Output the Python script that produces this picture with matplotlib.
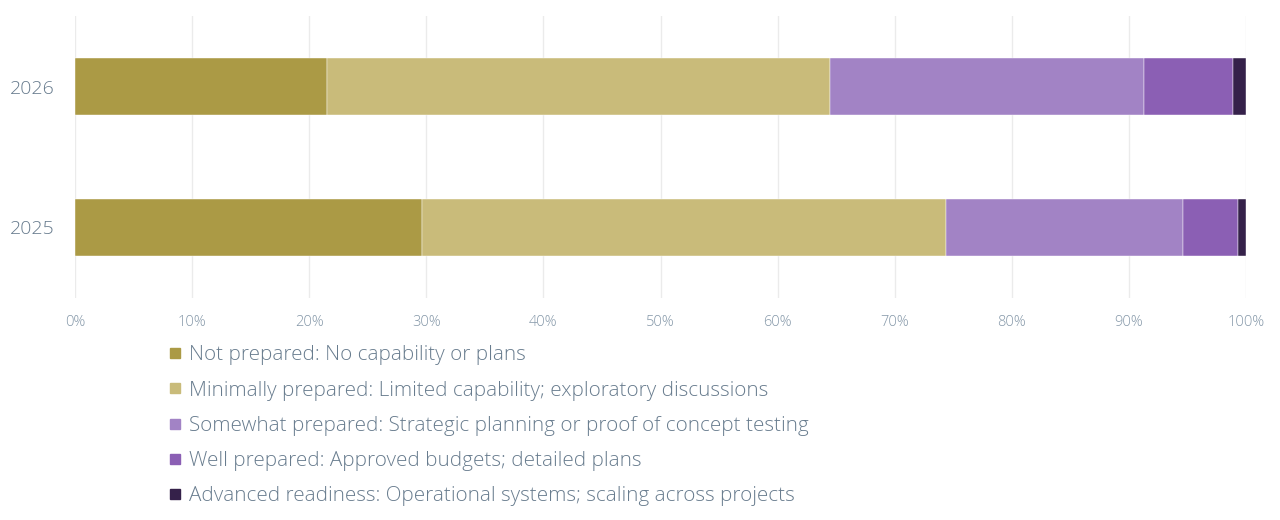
import matplotlib
matplotlib.use('Agg')
import matplotlib.pyplot as plt
from matplotlib.lines import Line2D

plt.rcParams['font.family'] = ['Open Sans', 'DejaVu Sans']
plt.rcParams['font.weight'] = 'light'

years = ['2025', '2026']
labels = [
    'Not prepared: No capability or plans',
    'Minimally prepared: Limited capability; exploratory discussions',
    'Somewhat prepared: Strategic planning or proof of concept testing',
    'Well prepared: Approved budgets; detailed plans',
    'Advanced readiness: Operational systems; scaling across projects',
]
# percent shares per year, order 2025, 2026
not_prepared = [29.6, 21.5]
minimally = [44.8, 43.0]
somewhat = [20.2, 26.8]
well = [4.7, 7.6]
advanced = [0.7, 1.1]
series = [not_prepared, minimally, somewhat, well, advanced]
colors = ['#ab9a45', '#c9bb7a', '#a283c5', '#8b5fb4', '#35214a']

text_col = '#687c8e'

fig = plt.figure(figsize=(12.8, 5.2), dpi=100)
ax = fig.add_axes([75 / 1280, 1 - 298 / 520, (1246 - 75) / 1280, (298 - 16) / 520])

left = [0.0, 0.0]
for vals, col in zip(series, colors):
    ax.barh(years, vals, left=left, height=0.4, color=col,
            edgecolor='white', linewidth=0.3)
    left = [l + v for l, v in zip(left, vals)]

ax.set_xlim(0, 100)
ax.set_ylim(-0.5, 1.5)
ax.set_xticks(range(0, 101, 10))
ax.set_xticklabels([f'{t}%' for t in range(0, 101, 10)])
ax.grid(axis='x', color='#ebebeb', linewidth=1)
ax.set_axisbelow(True)
for s in ax.spines.values():
    s.set_visible(False)
ax.tick_params(axis='x', length=0, pad=12, labelsize=10.5, labelcolor='#8497a8')
ax.tick_params(axis='y', length=0, pad=15, labelsize=14, labelcolor=text_col)

handles = [Line2D([], [], marker='s', linestyle='none', markersize=7,
                  markerfacecolor=c, markeredgecolor=c) for c in colors]
fig.legend(handles, labels, loc='upper left', bbox_to_anchor=(160 / 1280, 1 - 337 / 520),
           frameon=False, fontsize=14.85, labelcolor=text_col, handlelength=0.7,
           handletextpad=0.3, labelspacing=0.74, borderaxespad=0)

fig.savefig('out.png', dpi=100, facecolor='white')
